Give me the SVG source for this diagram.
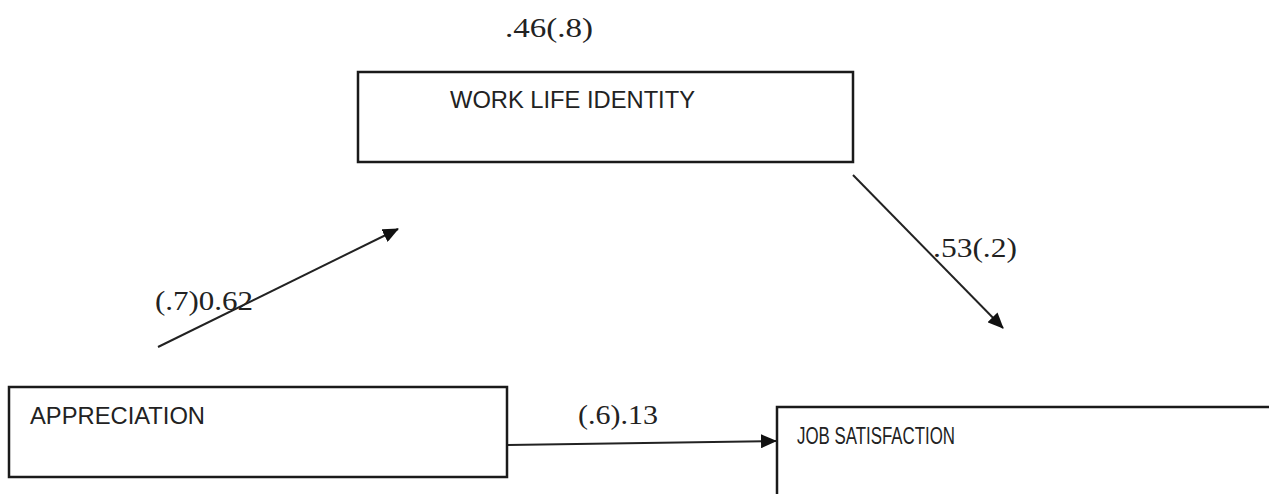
<svg xmlns="http://www.w3.org/2000/svg" width="1269" height="494" viewBox="0 0 1269 494">
<style>
.box{fill:#fff;stroke:#1a1a1a;stroke-width:2.5}
.lbl{font-family:"Liberation Sans",Arial,sans-serif;font-size:23px;fill:#222}
.num{font-family:"Liberation Serif","Times New Roman",serif;font-size:28px;fill:#222}
.conn{stroke:#222;stroke-width:2;fill:none;marker-end:url(#ah)}
</style>
<defs>
<marker id="ah" markerUnits="userSpaceOnUse" markerWidth="16" markerHeight="14" refX="15" refY="7" orient="auto">
<path d="M0,0 L16,7 L0,14 Z" fill="#111"/>
</marker>
</defs>
<rect width="1269" height="494" fill="#fff"/>
<g id="connectors">
<line class="conn" x1="158" y1="347" x2="398" y2="229"/>
<line class="conn" x1="853" y1="175" x2="1003" y2="328"/>
<line class="conn" x1="508" y1="445" x2="776" y2="441"/>
</g>
<g id="work-life-identity">
<rect class="box" x="358" y="72" width="495" height="90"/>
<text class="lbl" x="450" y="108" textLength="245" lengthAdjust="spacingAndGlyphs">WORK LIFE IDENTITY</text>
</g>
<g id="appreciation">
<rect class="box" x="9" y="387" width="498" height="90"/>
<text class="lbl" x="30" y="424" textLength="175" lengthAdjust="spacingAndGlyphs">APPRECIATION</text>
</g>
<g id="job-satisfaction">
<rect class="box" x="777" y="407" width="600" height="200"/>
<text class="lbl" x="797" y="444" textLength="158" lengthAdjust="spacingAndGlyphs">JOB SATISFACTION</text>
</g>
<g id="labels">
<text class="num" x="505" y="37" textLength="88" lengthAdjust="spacingAndGlyphs">.46(.8)</text>
<text class="num" x="155" y="310" textLength="98" lengthAdjust="spacingAndGlyphs">(.7)0.62</text>
<text class="num" x="933" y="257" textLength="84" lengthAdjust="spacingAndGlyphs">.53(.2)</text>
<text class="num" x="578" y="424" textLength="80" lengthAdjust="spacingAndGlyphs">(.6).13</text>
</g>
</svg>
